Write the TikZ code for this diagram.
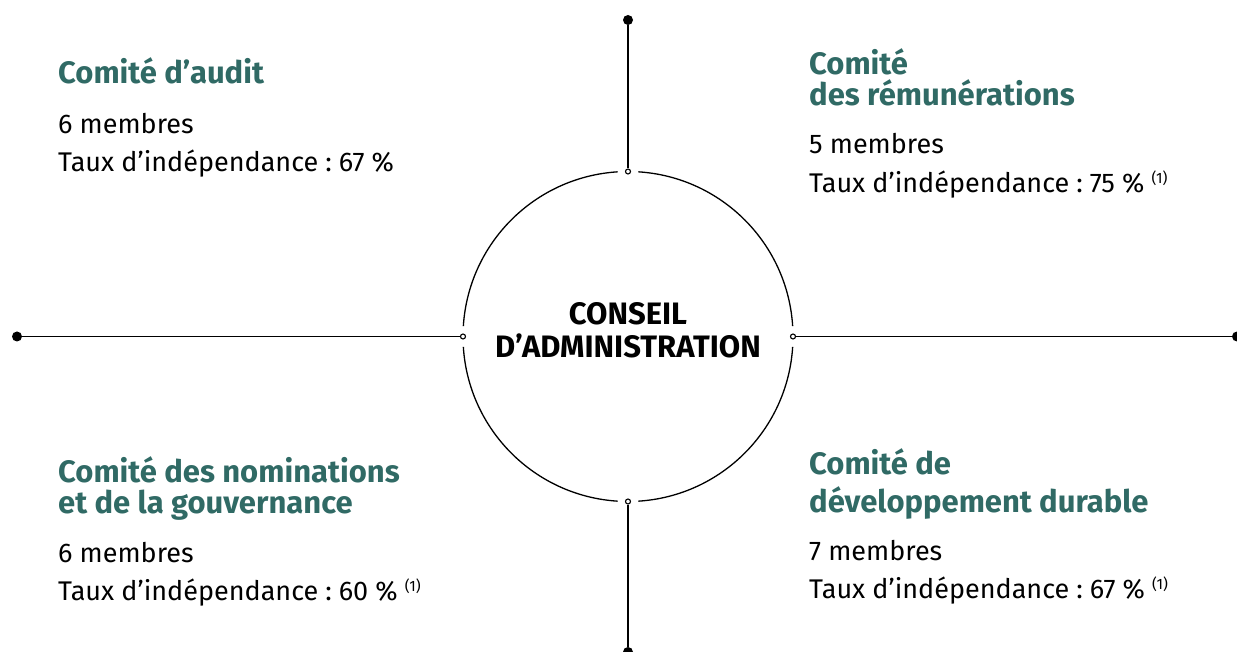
\documentclass[tikz,border=0pt]{standalone}
\usepackage{fontspec}
\setmainfont{Fira Sans}
\definecolor{teal}{HTML}{306A65}
\tikzset{
  x=1pt, y=-1pt,
  lin/.style={line width=1.5pt, black},
  arcline/.style={line width=1.3pt, black},
  enddot/.style={circle, fill=black, inner sep=0pt, minimum size=10pt},
  junc/.style={circle, draw=black, fill=white, line width=1.1pt, inner sep=0pt, minimum size=5pt},
  ttl/.style={anchor=base west, inner sep=0pt, text=teal, font=\fontsize{31}{33}\selectfont\bfseries},
  body/.style={anchor=base west, inner sep=0pt, text=black, font=\fontsize{27}{29}\selectfont},
  ctr/.style={anchor=base, inner sep=0pt, font=\fontsize{31}{33}\selectfont\bfseries},
}
\newcommand{\noteone}{\ {\fontsize{15}{15}\selectfont\raisebox{9pt}{(1)}}}
\newcommand{\tauxind}{Taux d’indépendance\hspace{7pt}:\hspace{7pt}}
\begin{document}
\begin{tikzpicture}
\useasboundingbox (0,0) rectangle (1237,652);
% centre
\coordinate (c) at (628,336.5);
\node[circle, minimum size=330pt, inner sep=0pt] (ca) at (c) {};
% arcs with gaps
\foreach \a in {0,90,180,270}{
  \draw[arcline] ([shift={(\a+3.6:165)}]c) arc[start angle=\a+3.6, end angle=\a+86.4, radius=165];
}
% junctions
\node[junc] (jn) at (628,171.5) {};
\node[junc] (js) at (628,501.5) {};
\node[junc] (jw) at (463,336.5) {};
\node[junc] (je) at (793,336.5) {};
% end dots
\node[enddot] (dn) at (628,20) {};
\node[enddot] (ds) at (628,652) {};
\node[enddot] (dw) at (17,336.5) {};
\node[enddot] (de) at (1237,336.5) {};
% connectors
\draw[lin] (dn) -- (jn);
\draw[lin] (js) -- (ds);
\draw[lin] (dw) -- (jw);
\draw[lin] (je) -- (de);
% centre text
\node[ctr] (c1) at (628,324) {CONSEIL};
\node[ctr] (c2) at (628,357) {D’ADMINISTRATION};
% top left
\node[ttl] (tl1) at (58,84) {Comité d’audit};
\node[body] (tl2) at (58,134) {6 membres};
\node[body] (tl3) at (58,172) {\tauxind 67 \%};
% top right
\node[ttl] (tr1) at (809,75) {Comité};
\node[ttl] (tr2) at (809,106) {des rémunérations};
\node[body] (tr3) at (809,154) {5 membres};
\node[body] (tr4) at (809,193) {\tauxind 75 \%\noteone};
% bottom left
\node[ttl] (bl1) at (58,482) {Comité des nominations};
\node[ttl] (bl2) at (58,513) {et de la gouvernance};
\node[body] (bl3) at (58,562) {6 membres};
\node[body] (bl4) at (58,600) {\tauxind 60 \%\noteone};
% bottom right
\node[ttl] (br1) at (809,474) {Comité de};
\node[ttl] (br2) at (809,512) {développement durable};
\node[body] (br3) at (809,560) {7 membres};
\node[body] (br4) at (809,598) {\tauxind 67 \%\noteone};
\end{tikzpicture}
\end{document}
